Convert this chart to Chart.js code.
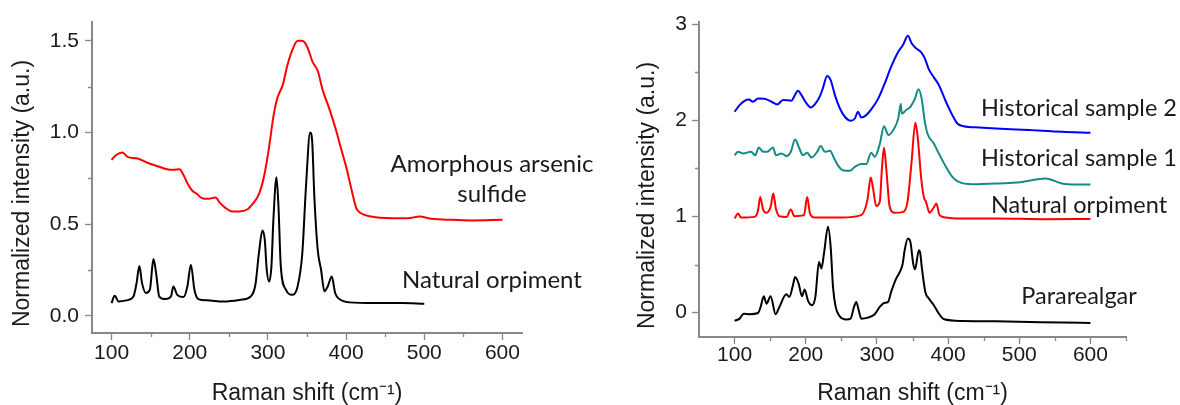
<!DOCTYPE html>
<html>
<head>
<meta charset="utf-8">
<script src="https://cdn.jsdelivr.net/npm/chart.js@4"></script>
<style>
  html, body { margin: 0; padding: 0; background: #fff; }
  #wrap { position: relative; width: 1180px; height: 405px; }
  #left { position: absolute; left: 0; top: 0; }
  #right { position: absolute; left: 620px; top: 0; }
</style>
</head>
<body>
<div id="wrap">
  <canvas id="left" width="620" height="405"></canvas>
  <canvas id="right" width="560" height="405"></canvas>
</div>
<script>
// ---- left panel: amorphous arsenic sulfide vs natural orpiment ----
var amorphShift = [100, 106, 114, 121, 132, 145, 158, 171, 179, 187, 192, 197, 203, 209, 216, 224, 233, 239, 246, 254, 263, 274, 282, 289, 295, 301, 307, 312, 319, 325, 333, 338, 342, 346, 351, 357, 364, 370, 379, 387, 394, 400, 407, 413, 419, 432, 458, 479, 494, 509, 535, 561, 600];
var amorphInt = [0.850, 0.877, 0.890, 0.865, 0.859, 0.836, 0.817, 0.799, 0.796, 0.799, 0.768, 0.723, 0.683, 0.665, 0.641, 0.638, 0.645, 0.614, 0.587, 0.569, 0.569, 0.581, 0.618, 0.668, 0.759, 0.905, 1.086, 1.186, 1.259, 1.368, 1.468, 1.500, 1.500, 1.495, 1.459, 1.386, 1.332, 1.232, 1.123, 1.014, 0.905, 0.814, 0.687, 0.587, 0.559, 0.541, 0.532, 0.532, 0.541, 0.529, 0.523, 0.520, 0.523];

var orpShiftA = [100, 104, 109, 119, 128, 132, 135.6, 139, 144, 149, 153.6, 157, 161, 169, 176, 179, 184, 192, 197, 201.5, 206, 211, 222, 244, 265, 278, 284, 288.5, 293, 296, 298.5, 301.5, 304.5, 307, 311, 313.5, 316.5, 323, 331, 338, 344, 348.7, 354, 356.5, 359.4, 363.7, 368, 372.3, 376.5, 381.7, 386, 391.5, 404, 437, 471, 500];
var orpIntA = [0.069, 0.109, 0.078, 0.084, 0.105, 0.178, 0.272, 0.178, 0.124, 0.142, 0.309, 0.233, 0.105, 0.091, 0.105, 0.160, 0.114, 0.102, 0.160, 0.278, 0.142, 0.091, 0.084, 0.078, 0.087, 0.105, 0.169, 0.341, 0.465, 0.414, 0.251, 0.187, 0.269, 0.523, 0.756, 0.596, 0.269, 0.142, 0.114, 0.160, 0.341, 0.705, 1.000, 0.959, 0.650, 0.360, 0.251, 0.133, 0.160, 0.214, 0.124, 0.091, 0.073, 0.069, 0.069, 0.065];

var leftXTicks = [100, 200, 300, 400, 500, 600];
var leftXMinor = [150, 250, 350, 450, 550];
var leftYTicks = [0, 0.5, 1.0, 1.5];
var leftYMinor = [0.25, 0.75, 1.25];

// ---- right panel: historical samples, orpiment, pararealgar ----
var hist2Shift = [100, 107, 114, 120, 126, 133, 142, 152, 160, 168, 180, 184, 189, 194, 201, 207, 213, 220, 224, 230, 235, 241, 248, 255, 263, 269, 273.5, 278, 285, 292, 302, 311, 320, 330, 337, 343.5, 349, 355, 362, 367, 373, 380, 387, 397, 406, 413, 422, 444, 467, 514, 560, 600];
var hist2Int = [2.090, 2.159, 2.204, 2.218, 2.194, 2.229, 2.226, 2.194, 2.166, 2.212, 2.205, 2.253, 2.309, 2.263, 2.177, 2.135, 2.170, 2.253, 2.333, 2.462, 2.420, 2.263, 2.124, 2.038, 1.996, 2.020, 2.090, 2.030, 2.055, 2.114, 2.229, 2.385, 2.559, 2.715, 2.790, 2.880, 2.800, 2.750, 2.710, 2.650, 2.531, 2.448, 2.368, 2.194, 2.055, 1.968, 1.940, 1.927, 1.916, 1.899, 1.881, 1.871];

var hist1Shift = [100, 105, 112, 123, 129, 134, 140, 146, 154, 158, 166, 173, 179, 185, 191, 196, 202, 208, 216, 221, 227, 234, 240, 245, 252, 262, 269, 278, 285, 292, 297, 304, 310, 316, 323, 330, 333.5, 335, 341, 347, 353, 358.5, 363, 367, 371, 380, 387, 397, 406, 415, 434, 467, 504, 537, 560, 579, 600];
var hist1Int = [1.638, 1.673, 1.656, 1.673, 1.638, 1.718, 1.673, 1.673, 1.718, 1.638, 1.656, 1.628, 1.673, 1.802, 1.708, 1.638, 1.663, 1.614, 1.673, 1.733, 1.673, 1.683, 1.604, 1.534, 1.482, 1.475, 1.517, 1.545, 1.545, 1.663, 1.621, 1.753, 1.940, 1.847, 1.899, 2.021, 2.170, 2.070, 2.108, 2.142, 2.219, 2.323, 2.220, 2.000, 1.864, 1.760, 1.656, 1.517, 1.413, 1.360, 1.336, 1.343, 1.360, 1.395, 1.343, 1.333, 1.333];

var orpShiftB = [100, 105, 109, 128, 133, 136, 140, 144.5, 150.6, 154.4, 158, 163, 173, 179, 184, 197.5, 202, 206, 212.5, 250, 278, 286.6, 291.3, 294.6, 299, 304, 307.2, 310, 313.3, 318, 325, 337, 343, 348.5, 354, 357, 362.5, 366, 369, 374, 379, 383.6, 388, 397, 411, 467, 537, 600];
var orpIntB = [0.979, 1.030, 0.989, 0.996, 1.066, 1.204, 1.073, 1.038, 1.100, 1.239, 1.083, 1.003, 0.996, 1.073, 1.003, 1.014, 1.204, 1.030, 0.989, 0.989, 1.014, 1.170, 1.406, 1.291, 1.108, 1.153, 1.517, 1.718, 1.482, 1.100, 1.038, 1.048, 1.153, 1.552, 1.976, 1.847, 1.378, 1.200, 1.153, 1.038, 1.083, 1.135, 1.014, 0.989, 0.979, 0.979, 0.972, 0.975];

var pararShift = [100, 107, 113, 121, 133, 136.6, 141, 145, 150.6, 157.7, 163, 172.7, 177, 182, 185, 190, 194.7, 198.5, 203, 208.8, 213.5, 218.6, 222, 225.6, 231.3, 235, 238.3, 242, 247.7, 257, 263, 267.8, 271, 274.4, 278, 287.5, 297, 304, 310, 315.7, 320, 327, 332, 336, 339, 343.5, 347, 351, 353.5, 359, 361, 363, 368, 373, 380, 386.4, 394.4, 420, 467, 514, 560, 600];
var pararInt = [-0.087, -0.063, -0.011, -0.017, -0.004, 0.059, 0.170, 0.093, 0.170, -0.017, 0.059, 0.190, 0.163, 0.285, 0.371, 0.302, 0.170, 0.240, 0.128, 0.076, 0.163, 0.527, 0.458, 0.614, 0.892, 0.684, 0.267, 0.059, -0.038, -0.073, -0.063, 0.059, 0.111, 0.024, -0.063, -0.052, -0.017, 0.059, 0.100, 0.111, 0.215, 0.354, 0.420, 0.500, 0.650, 0.771, 0.736, 0.510, 0.450, 0.649, 0.614, 0.475, 0.215, 0.146, 0.076, -0.004, -0.070, -0.087, -0.090, -0.097, -0.104, -0.108];

var rightXTicks = [100, 200, 300, 400, 500, 600];
var rightXMinor = [150, 250, 350, 450, 550, 650];
var rightYTicks = [0, 1, 2, 3];
var rightYMinor = [0.5, 1.5, 2.5];

var axisGray = '#888888';
var inkColor = '#1a1a1a';

Chart.defaults.font.family = '"Liberation Sans", Arial, sans-serif';
Chart.defaults.color = inkColor;

function pairs(xs, ys) {
  return xs.map(function (x, i) { return { x: x, y: ys[i] }; });
}

function series(xs, ys, color) {
  return {
    data: pairs(xs, ys),
    borderColor: color,
    borderWidth: 2,
    pointRadius: 0,
    cubicInterpolationMode: 'monotone',
    fill: false
  };
}

// short unlabeled ticks between the numbered ones
var minorTicks = {
  id: 'minorTicks',
  afterDraw: function (chart, args, opts) {
    var ctx = chart.ctx, x = chart.scales.x, y = chart.scales.y;
    ctx.save();
    ctx.strokeStyle = axisGray;
    ctx.lineWidth = 1.3;
    ctx.beginPath();
    opts.x.forEach(function (v) {
      var px = Math.round(x.getPixelForValue(v)) + 0.5;
      ctx.moveTo(px, x.top);
      ctx.lineTo(px, x.top + 4);
    });
    opts.y.forEach(function (v) {
      var py = Math.round(y.getPixelForValue(v)) + 0.5;
      ctx.moveTo(y.right, py);
      ctx.lineTo(y.right - 4, py);
    });
    ctx.stroke();
    ctx.restore();
  }
};

// sample names written next to each trace
var curveLabels = {
  id: 'curveLabels',
  afterDraw: function (chart, args, opts) {
    var ctx = chart.ctx, x = chart.scales.x, y = chart.scales.y;
    ctx.save();
    ctx.font = opts.size + 'px Lato';
    ctx.fillStyle = inkColor;
    ctx.textAlign = 'center';
    ctx.textBaseline = 'alphabetic';
    opts.items.forEach(function (l) {
      ctx.fillText(l.text, x.getPixelForValue(l.x), y.getPixelForValue(l.y));
    });
    ctx.restore();
  }
};

function buildOptions(cfg) {
  return {
    responsive: false,
    animation: false,
    layout: { padding: cfg.padding },
    plugins: {
      legend: { display: false },
      tooltip: { enabled: false },
      minorTicks: { x: cfg.xMinor, y: cfg.yMinor },
      curveLabels: { size: cfg.labelSize, items: cfg.labels }
    },
    scales: {
      x: {
        type: 'linear',
        min: cfg.xMin,
        max: cfg.xMax,
        afterBuildTicks: function (s) { s.ticks = cfg.xTicks.map(function (v) { return { value: v }; }); },
        afterFit: function (s) { s.height = cfg.xHeight; },
        ticks: {
          font: { size: 21, lineHeight: 1 },
          color: inkColor,
          padding: cfg.xTickPad,
          maxRotation: 0,
          callback: function (v) { return String(v); }
        },
        grid: { drawOnChartArea: false, color: axisGray, tickLength: 7, tickWidth: 1.3 },
        border: { color: axisGray, width: 2 },
        title: {
          display: true,
          text: 'Raman shift (cm\u207B\u00B9)',
          font: { size: 23, lineHeight: 1 },
          color: inkColor,
          padding: 0
        }
      },
      y: {
        min: cfg.yMin,
        max: cfg.yMax,
        afterBuildTicks: function (s) { s.ticks = cfg.yTicks.map(function (v) { return { value: v }; }); },
        afterFit: function (s) { s.width = cfg.yWidth; },
        ticks: {
          font: { size: 21, lineHeight: 1 },
          color: inkColor,
          padding: cfg.yTickPad,
          callback: cfg.yFormat
        },
        grid: { drawOnChartArea: false, color: axisGray, tickLength: 7, tickWidth: 1.3 },
        border: { color: axisGray, width: 2 },
        title: {
          display: true,
          text: 'Normalized intensity (a.u.)     ',
          font: { size: 23 },
          color: inkColor,
          padding: { top: 9, bottom: 0 }
        }
      }
    }
  };
}

new Chart(document.getElementById('left'), {
  type: 'line',
  data: {
    datasets: [
      series(amorphShift, amorphInt, '#ff0000'),
      series(orpShiftA, orpIntA, '#000000')
    ]
  },
  options: buildOptions({
    padding: { left: 0, top: 22, right: 98, bottom: 0 },
    xMin: 75, xMax: 625, xTicks: leftXTicks, xMinor: leftXMinor, xHeight: 72, xTickPad: 3,
    yMin: -0.094, yMax: 1.602, yTicks: leftYTicks, yMinor: leftYMinor, yWidth: 92, yTickPad: 6,
    yFormat: function (v) { return v.toFixed(1); },
    labelSize: 24,
    labels: [
      { text: 'Amorphous arsenic', x: 586.6, y: 0.786 },
      { text: 'sulfide', x: 586.6, y: 0.623 },
      { text: 'Natural orpiment', x: 586.6, y: 0.151 }
    ]
  }),
  plugins: [minorTicks, curveLabels]
});

new Chart(document.getElementById('right'), {
  type: 'line',
  data: {
    datasets: [
      series(pararShift, pararInt, '#000000'),
      series(orpShiftB, orpIntB, '#ff0000'),
      series(hist1Shift, hist1Int, '#168a85'),
      series(hist2Shift, hist2Int, '#0000ff')
    ]
  },
  options: buildOptions({
    padding: { left: 5, top: 22, right: 54, bottom: 0 },
    xMin: 50, xMax: 650, xTicks: rightXTicks, xMinor: rightXMinor, xHeight: 68, xTickPad: 1,
    yMin: -0.254, yMax: 3.024, yTicks: rightYTicks, yMinor: rightYMinor, yWidth: 74, yTickPad: 5,
    yFormat: function (v) { return String(v); },
    labelSize: 23.5,
    labels: [
      { text: 'Historical sample 2', x: 584, y: 2.048 },
      { text: 'Historical sample 1', x: 584, y: 1.527 },
      { text: 'Natural orpiment', x: 584, y: 1.04 },
      { text: 'Pararealgar', x: 584, y: 0.086 }
    ]
  }),
  plugins: [minorTicks, curveLabels]
});
</script>
</body>
</html>
